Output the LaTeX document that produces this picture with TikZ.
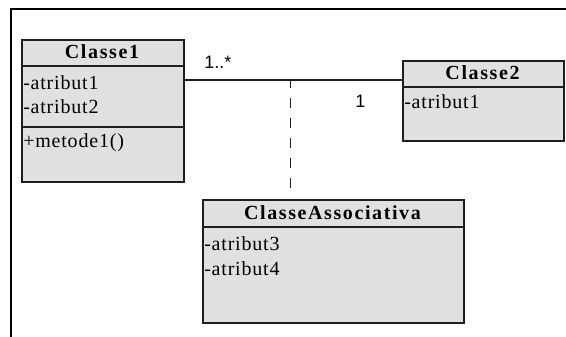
\documentclass[tikz,border=0pt]{standalone}
\usepackage{fontspec}
\setmainfont{Liberation Serif}
\newfontfamily\umlfont[LetterSpace=4,BoldFeatures={LetterSpace=8}]{Liberation Serif}
\newfontfamily\multfont{Liberation Sans}
\definecolor{boxgray}{RGB}{224,224,224}
\definecolor{edge}{RGB}{30,30,30}
\begin{document}
\begin{tikzpicture}[x=0.75pt,y=-0.75pt,
  classbox/.style={draw=edge,line width=1.5pt,fill=boxgray,inner sep=0pt,anchor=north west},
  compline/.style={draw=edge,line width=1.5pt},
  title/.style={font=\umlfont\bfseries\fontsize{15}{17}\selectfont,anchor=base,inner sep=0pt},
  member/.style={font=\umlfont\fontsize{15}{17}\selectfont,anchor=base west,inner sep=0pt},
  mult/.style={font=\multfont\fontsize{13.5}{15}\selectfont,anchor=base west,inner sep=0pt},
  assoc/.style={draw=edge,line width=1.4pt},
  assocdash/.style={draw=edge,line width=1.4pt,dash pattern=on 7.5pt off 7.5pt,dash phase=1.5pt}]
\useasboundingbox (0,0) rectangle (566,336);
\fill[white] (0,0) rectangle (566,336);
% outer frame, only its top and left edges fall inside the page
\draw[black,line width=2pt] (11,345) -- (11,9) -- (575,9);

% Classe1
\node[classbox,minimum width=121.5pt,minimum height=106.5pt] (c1) at (21,39) {};
\draw[compline] (21,66) -- (183,66);
\draw[compline] (21,127) -- (183,127);
\node[title] (c1t) at (102,58) {Classe1};
\node[member] (c1a) at (23,89) {-atribut1};
\node[member] (c1b) at (23,113) {-atribut2};
\node[member] (c1m) at (23,147) {+metode1()};

% Classe2
\node[classbox,minimum width=120.75pt,minimum height=60pt] (c2) at (402,60) {};
\draw[compline] (402,87) -- (563,87);
\node[title] (c2t) at (482.5,79) {Classe2};
\node[member] (c2a) at (404,108) {-atribut1};

% ClasseAssociativa
\node[classbox,minimum width=195.75pt,minimum height=92.25pt] (ca) at (202,199) {};
\draw[compline] (202,227) -- (463,227);
\node[title] (cat) at (332.5,219) {ClasseAssociativa};
\node[member] (caa) at (204,250) {-atribut3};
\node[member] (cab) at (204,275) {-atribut4};

% association and its class link
\coordinate (j) at (290.5,80);
\coordinate (d) at (290.5,188);
\draw[assoc] (c1.east |- j) -- (c2.west |- j);
\draw[assocdash] (j) -- (d);

% multiplicities
\node[mult] (m1) at (204,68) {1..*};
\node[mult] (m2) at (355,107) {1};
\end{tikzpicture}
\end{document}
